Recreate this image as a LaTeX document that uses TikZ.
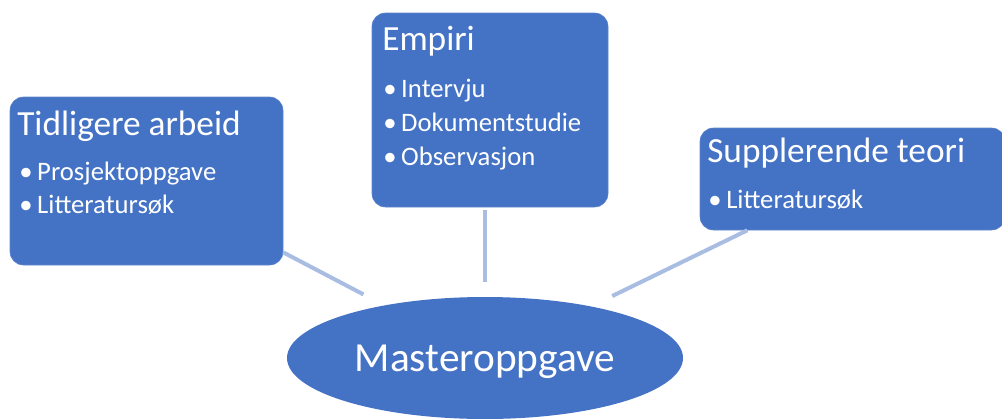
\documentclass[tikz,border=0pt]{standalone}
\usepackage{fontspec}
\setmainfont{Carlito}
\usetikzlibrary{fit,shapes.geometric}
\definecolor{boksblaa}{HTML}{4472C4}
\definecolor{linjeblaa}{HTML}{A9BDE3}
\tikzset{
  boks/.style={fill=boksblaa, draw=boksblaa!85!white, rounded corners=10pt, inner sep=0pt},
  tittel/.style={anchor=base west, inner sep=0pt, text=white, font=\fontsize{26.5}{30}\selectfont},
  punkt/.style={anchor=base west, inner sep=0pt, text=white, font=\fontsize{20}{24}\selectfont},
  lenke/.style={draw=linjeblaa, line width=3pt},
}
\newcommand{\kule}{\makebox[13.5pt][l]{\textbullet}}

\begin{document}
\begin{tikzpicture}[x=0.75pt, y=-0.75pt]
\clip (0,0) rectangle (1002,418);
\fill[white] (0,0) rectangle (1002,418);

\node[boks, fit={(10,97) (283,265)}] (tidl) {};
\node[tittel] (tidlT) at (17,135) {Tidligere arbeid};
\node[punkt] (tidl1) at (19,180) {\kule Prosjektoppgave};
\node[punkt] (tidl2) at (19,213) {\kule Litteratursøk};

\node[boks, fit={(372,13) (608,207)}] (empiri) {};
\node[tittel] (empiriT) at (382,50) {Empiri};
\node[punkt] (empiri1) at (383,97) {\kule Intervju};
\node[punkt] (empiri2) at (383,131) {\kule Dokumentstudie};
\node[punkt] (empiri3) at (383,165) {\kule Observasjon};

\node[boks, fit={(700,128) (1005,230)}] (supp) {};
\node[tittel] (suppT) at (707,162) {Supplerende teori};
\node[punkt] (supp1) at (708,208) {\kule Litteratursøk};

\node[ellipse, fill=boksblaa, minimum width=297pt, minimum height=91.5pt, inner sep=0pt,
      text depth=0pt, text=white, font=\fontsize{31}{36}\selectfont] (master) at (485,358) {Masteroppgave};

\draw[lenke, shorten >=17.5pt] (tidl) -- (master);
\draw[lenke, shorten <=2pt, shorten >=11pt] (empiri.south -| master) -- (master.north);
\draw[lenke, shorten >=17.5pt] (supp) -- (master);

\end{tikzpicture}
\end{document}
